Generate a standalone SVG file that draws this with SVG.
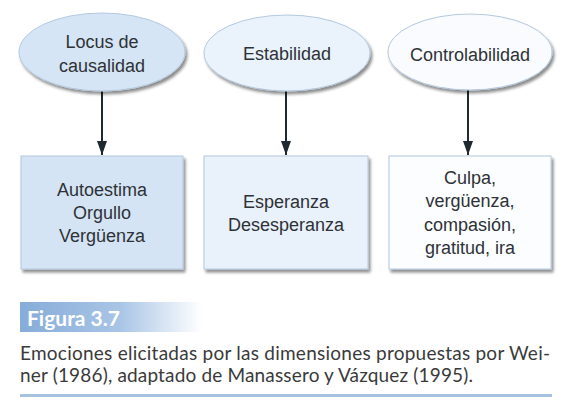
<svg xmlns="http://www.w3.org/2000/svg" width="587" height="417" viewBox="0 0 587 417">
  <defs>
    <filter id="sh" x="-10%" y="-10%" width="130%" height="130%">
      <feGaussianBlur in="SourceAlpha" stdDeviation="1.5"/>
      <feOffset dx="2" dy="3" result="b"/>
      <feComponentTransfer><feFuncA type="linear" slope="0.45"/></feComponentTransfer>
      <feMerge><feMergeNode/><feMergeNode in="SourceGraphic"/></feMerge>
    </filter>
    <linearGradient id="fig" x1="0" y1="0" x2="1" y2="0">
      <stop offset="0" stop-color="#86acd9"/>
      <stop offset="0.55" stop-color="#a9c5e6"/>
      <stop offset="1" stop-color="#ffffff"/>
    </linearGradient>
    <marker id="ah" markerWidth="14" markerHeight="10" refX="14" refY="5" orient="auto" markerUnits="userSpaceOnUse" viewBox="0 0 14 10">
      <path d="M0,0 L14,5 L0,10 Z" fill="#1e2a30"/>
    </marker>
  </defs>
  <style>
    .t { font-family: "Liberation Sans", Arial, sans-serif; font-size: 18px; fill: #2e3236; text-anchor: middle; }
    .n { stroke: #b3c8df; stroke-width: 1; filter: url(#sh); }
    .c { stroke: #1e2a30; stroke-width: 2; fill: none; }
    .cap { font-family: Lato, "Open Sans", sans-serif; font-size: 19px; fill: #3a3a3a; }
  </style>
  <rect width="587" height="417" fill="#ffffff"/>

  <g id="connectors">
    <line class="c" x1="102" y1="91" x2="102" y2="155" marker-end="url(#ah)"/>
    <line class="c" x1="286" y1="91" x2="286" y2="155" marker-end="url(#ah)"/>
    <line class="c" x1="468" y1="90" x2="468" y2="155" marker-end="url(#ah)"/>
  </g>

  <g id="locus">
    <ellipse class="n" cx="102" cy="52" rx="83" ry="39" fill="#d5e5f5"/>
    <text class="t" x="102" y="48">Locus de</text>
    <text class="t" x="102" y="72">causalidad</text>
  </g>
  <g id="estabilidad">
    <ellipse class="n" cx="287" cy="53" rx="83" ry="38" fill="#eaf2fb"/>
    <text class="t" x="287" y="60">Estabilidad</text>
  </g>
  <g id="controlabilidad">
    <ellipse class="n" cx="470" cy="52" rx="82" ry="38" fill="#f9fbfe"/>
    <text class="t" x="470" y="61">Controlabilidad</text>
  </g>

  <g id="box1">
    <rect class="n" x="21" y="156" width="162" height="113" fill="#d4e4f5"/>
    <text class="t" x="102" y="196">Autoestima</text>
    <text class="t" x="102" y="219">Orgullo</text>
    <text class="t" x="102" y="242">Vergüenza</text>
  </g>
  <g id="box2">
    <rect class="n" x="204" y="156" width="164" height="113" fill="#e9f1fb"/>
    <text class="t" x="286" y="208">Esperanza</text>
    <text class="t" x="286" y="231">Desesperanza</text>
  </g>
  <g id="box3">
    <rect class="n" x="389" y="156" width="162" height="113" fill="#fbfdff"/>
    <text class="t" x="470" y="184">Culpa,</text>
    <text class="t" x="470" y="207">vergüenza,</text>
    <text class="t" x="470" y="231">compasión,</text>
    <text class="t" x="470" y="254">gratitud, ira</text>
  </g>

  <g id="caption">
    <rect x="20" y="302" width="182" height="30" fill="url(#fig)"/>
    <text x="27" y="326" font-family="Lato, 'Open Sans', sans-serif" font-weight="bold" font-size="21" fill="#ffffff">Figura 3.7</text>
    <text class="cap" x="20" y="360" textLength="530">Emociones elicitadas por las dimensiones propuestas por Wei-</text>
    <text class="cap" x="20" y="382" textLength="453">ner (1986), adaptado de Manassero y Vázquez (1995).</text>
    <rect x="20" y="394" width="532" height="3" fill="#a7c1e1"/>
  </g>
</svg>
